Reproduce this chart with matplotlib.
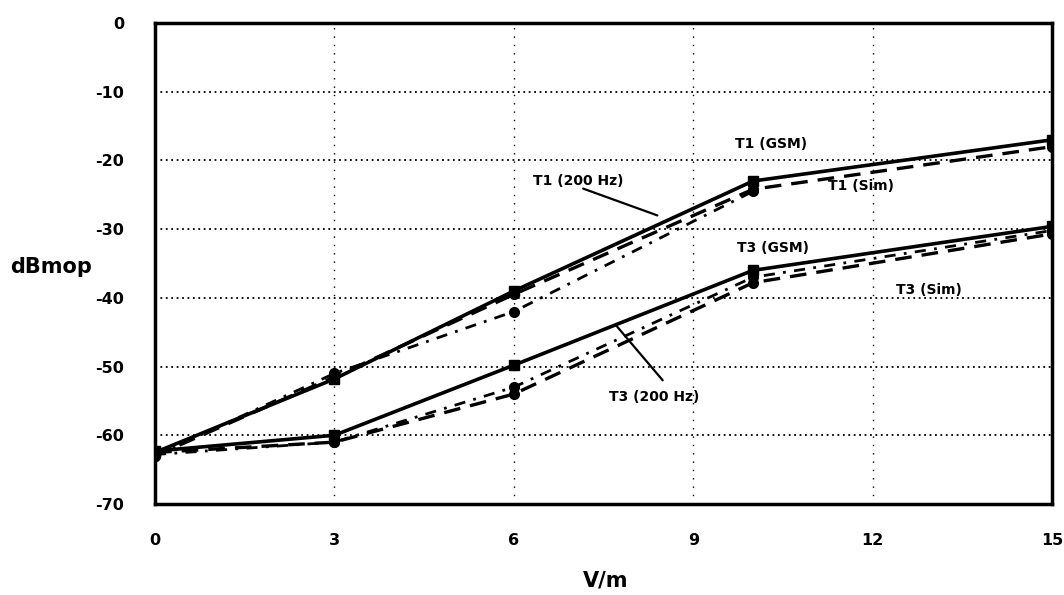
import numpy as np
import matplotlib
matplotlib.use("Agg")
import matplotlib.pyplot as plt

# field strength (V/m)
x_full = [0, 3, 6, 10, 15]

# T1 curves (dBmop)
t1_gsm = [-62.5, -51.8, -39.0, -23.0, -17.0]
t1_sim = [-63.0, -51.5, -39.5, -24.2, -18.0]
x_t1_200 = [0, 3, 6, 10]
t1_200 = [-63.0, -51.0, -42.0, -24.5]

# T3 curves (dBmop)
t3_gsm = [-62.3, -60.0, -49.8, -36.0, -29.6]
t3_sim = [-62.5, -61.0, -54.0, -37.8, -30.7]
t3_200 = [-62.8, -61.0, -53.0, -37.0, -30.2]

xticks = [0, 3, 6, 9, 12, 15]
yticks = [0, -10, -20, -30, -40, -50, -60, -70]

plt.rcParams['font.family'] = ['DejaVu Sans']
fig = plt.figure(figsize=(10.64, 5.95), dpi=100)
ax = fig.add_axes([0.1457, 0.153, 0.843, 0.8083])

solid = dict(color='black', lw=2.6, ls='-', marker='s', ms=7)
dashed = dict(color='black', lw=2.4, ls=(0, (5, 3)), marker='o', ms=7)
dashdot = dict(color='black', lw=2.0, ls=(0, (4, 3, 1, 3)), marker='o', ms=7)

ax.plot(x_full, t1_gsm, **solid)
ax.plot(x_full, t1_sim, **dashed)
ax.plot(x_t1_200, t1_200, **dashdot)
ax.plot(x_full, t3_gsm, **solid)
ax.plot(x_full, t3_sim, **dashed)
ax.plot(x_full, t3_200, **dashdot)

ax.set_xlim(0, 15)
ax.set_ylim(-70, 0)
ax.set_xticks(xticks)
ax.set_yticks(yticks)
ax.set_xticklabels([str(v) for v in xticks], fontsize=11.5, fontweight='bold')
ax.set_yticklabels([str(v) for v in yticks], fontsize=11.5, fontweight='bold')
ax.tick_params(axis='x', length=0, pad=21)
ax.tick_params(axis='y', length=0, pad=22)

for v in [3, 6, 9, 12]:
    ax.axvline(v, color='black', lw=1.0, ls=(0, (1, 5)), zorder=0)
for v in [-10, -20, -30, -40, -50, -60]:
    ax.axhline(v, color='black', lw=1.3, ls=(0, (1, 2)), zorder=0)

for s in ax.spines.values():
    s.set_linewidth(2.5)

fig.text(0.569, 0.025, 'V/m', fontsize=15, fontweight='bold', ha='center', va='center')
fig.text(0.048, 0.551, 'dBmop', fontsize=15, fontweight='bold', ha='center', va='center')

lab = dict(fontsize=10, fontweight='bold', ha='center', va='center')
ax.text(10.3, -17.6, 'T1 (GSM)', **lab)
ax.text(11.8, -23.7, 'T1 (Sim)', **lab)
ax.text(10.33, -32.8, 'T3 (GSM)', **lab)
ax.text(12.95, -38.9, 'T3 (Sim)', **lab)
ax.text(7.08, -23.0, 'T1 (200 Hz)', **lab)
ax.text(8.35, -54.5, 'T3 (200 Hz)', **lab)

# leader lines from labels to curves
lead = dict(arrowstyle='-', color='black', lw=1.6, shrinkA=0, shrinkB=0)
ax.annotate('', xy=(8.4, -28.0), xytext=(7.16, -24.1), arrowprops=lead)
ax.annotate('', xy=(7.7, -43.9), xytext=(8.49, -52.0), arrowprops=lead)

fig.savefig('out.png', dpi=100)
